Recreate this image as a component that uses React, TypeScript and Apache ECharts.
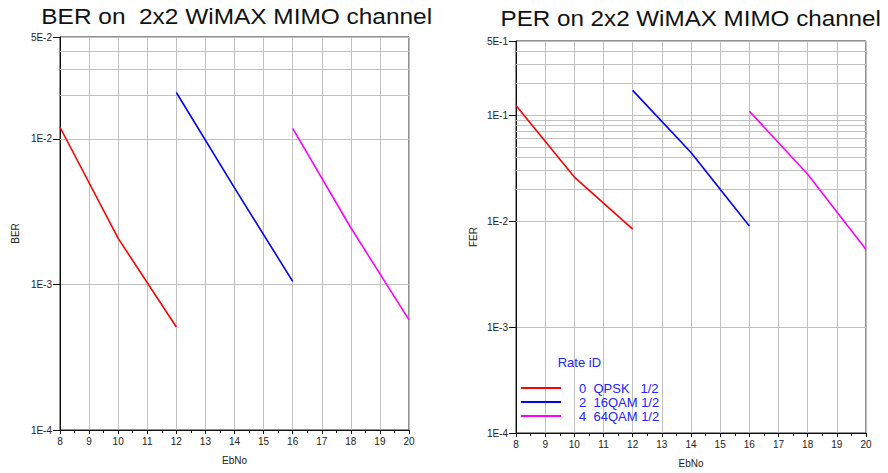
import React, { useEffect, useRef } from 'react';
import * as echarts from 'echarts';

const FONT = '"Liberation Sans", Arial, Helvetica, sans-serif';

// Eb/No points for each rate ID
const ebnoQpsk = [8, 10, 12];
const ebno16qam = [12, 14, 16];
const ebno64qam = [16, 18, 20];

// BER values (left chart)
const berQpsk = [1.2e-2, 2.07e-3, 5.1e-4];
const ber16qam = [2.08e-2, 4.6e-3, 1.05e-3];
const ber64qam = [1.18e-2, 2.45e-3, 5.7e-4];

// PER / FER values (right chart)
const perQpsk = [1.23e-1, 2.6e-2, 8.4e-3];
const per16qam = [1.71e-1, 4.43e-2, 9.0e-3];
const per64qam = [1.09e-1, 2.76e-2, 5.4e-3];

const seriesNames = ['0  QPSK   1/2', '2  16QAM 1/2', '4  64QAM 1/2'];
const seriesColors = ['#ff0000', '#0000ff', '#ff00ff'];

const titles = ['BER on  2x2 WiMAX MIMO channel', 'PER on 2x2 WiMAX MIMO channel'];
const yNames = ['BER', 'FER'];
const xName = 'EbNo';
const yMin = [1e-4, 1e-4];
const yMax = [5e-2, 5e-1];
const xMin = 8;
const xMax = 20;

const GRID_COLOR = '#c0c0c0';

function minorValues(min: number, max: number): number[] {
  const out: number[] = [];
  let k = Math.floor(Math.log10(min));
  while (Math.pow(10, k) < max) {
    for (let n = 2; n <= 9; n++) {
      const v = Number((n * Math.pow(10, k)).toPrecision(3));
      if (v > min && v < max) out.push(v);
    }
    k++;
  }
  return out;
}

function pairs(xs: number[], ys: number[]) {
  return xs.map((x, i) => [x, ys[i]]);
}

function fmtExp(v: number) {
  return Number(v).toExponential(0).toUpperCase().replace('+', '');
}

export default function App() {
  const ref = useRef<HTMLDivElement>(null);

  useEffect(() => {
    const chart = echarts.init(ref.current!, null, { renderer: 'svg' });

    const grids = [
      { left: 60, right: 479, top: 37, bottom: 43 },
      { left: 516, right: 22, top: 41, bottom: 39 },
    ];

    const xAxes = grids.map((_, i) => ({
      type: 'value',
      gridIndex: i,
      min: xMin,
      max: xMax,
      interval: 1,
      name: xName,
      nameLocation: 'middle',
      nameGap: 25,
      nameTextStyle: { fontFamily: FONT, fontSize: 10, color: '#222' },
      axisLine: { show: true, onZero: false, lineStyle: { color: '#111', width: 1 } },
      axisTick: { show: true, length: 4, lineStyle: { color: '#111' } },
      minorTick: { show: true, splitNumber: 2, length: 3, lineStyle: { color: '#111' } },
      axisLabel: { fontFamily: FONT, fontSize: 10, color: '#222', margin: 6 },
      splitLine: { show: true, lineStyle: { color: GRID_COLOR, width: 1 } },
    }));

    const yAxes = grids.map((_, i) => ({
      type: 'log',
      logBase: 10,
      gridIndex: i,
      min: yMin[i],
      max: yMax[i],
      name: yNames[i],
      nameLocation: 'middle',
      nameGap: i === 0 ? 40 : 38,
      nameRotate: 90,
      nameTextStyle: { fontFamily: FONT, fontSize: 10, color: '#222' },
      axisLine: { show: true, lineStyle: { color: '#111', width: 1 } },
      axisTick: { show: true, length: 7, lineStyle: { color: '#111' } },
      minorTick: { show: false },
      axisLabel: { fontFamily: FONT, fontSize: 10, color: '#222', margin: 8, formatter: (v: number) => fmtExp(v) },
      splitLine: { show: true, lineStyle: { color: GRID_COLOR, width: 1 } },
    }));

    const xsets = [ebnoQpsk, ebno16qam, ebno64qam];
    const ysets = [
      [berQpsk, ber16qam, ber64qam],
      [perQpsk, per16qam, per64qam],
    ];

    const series: any[] = [];
    for (let g = 0; g < 2; g++) {
      for (let s = 0; s < 3; s++) {
        const item: any = {
          type: 'line',
          name: seriesNames[s],
          xAxisIndex: g,
          yAxisIndex: g,
          data: pairs(xsets[s], ysets[g][s]),
          showSymbol: false,
          symbol: 'none',
          color: seriesColors[s],
          lineStyle: { color: seriesColors[s], width: 1.6 },
          z: 3,
        };
        if (s === 0) {
          item.markLine = {
            silent: true,
            z: 1,
            symbol: ['none', 'none'],
            label: { show: false },
            emphasis: { disabled: true },
            lineStyle: { color: GRID_COLOR, type: 'solid', width: 1 },
            data: minorValues(yMin[g], yMax[g]).map((v) => ({ yAxis: v })),
          };
        }
        series.push(item);
      }
    }

    chart.setOption({
      animation: false,
      backgroundColor: '#ffffff',
      grid: grids.map((g) => ({ ...g, show: true, borderColor: '#222', borderWidth: 1, backgroundColor: 'transparent' })),
      xAxis: xAxes,
      yAxis: yAxes,
      legend: {
        show: true,
        orient: 'vertical',
        left: 521,
        top: 381,
        padding: 0,
        itemGap: 0,
        itemWidth: 40,
        itemHeight: 2,
        icon: 'rect',
        selectedMode: false,
        data: seriesNames,
        textStyle: {
          fontFamily: FONT,
          fontSize: 13,
          color: '#2323ff',
          lineHeight: 14,
          padding: [0, 0, 0, 13],
        },
      },
      graphic: [
        {
          type: 'text',
          x: 236.7,
          y: 16.2,
          scaleX: 1.11,
          style: {
            text: titles[0],
            font: `22px ${FONT}`,
            fill: '#111',
            textAlign: 'center',
            verticalAlign: 'middle',
          },
        },
        {
          type: 'text',
          x: 690.7,
          y: 18.3,
          scaleX: 1.1,
          style: {
            text: titles[1],
            font: `22px ${FONT}`,
            fill: '#111',
            textAlign: 'center',
            verticalAlign: 'middle',
          },
        },
        {
          type: 'text',
          x: 557.7,
          y: 362.7,
          style: {
            text: 'Rate iD',
            font: `13px ${FONT}`,
            fill: '#2323ff',
            textAlign: 'left',
            verticalAlign: 'middle',
          },
        },
      ],
      series,
    });

    return () => chart.dispose();
  }, []);

  return <div ref={ref} style={{ position: 'fixed', left: 0, top: 0, width: 888, height: 473 }} />;
}
